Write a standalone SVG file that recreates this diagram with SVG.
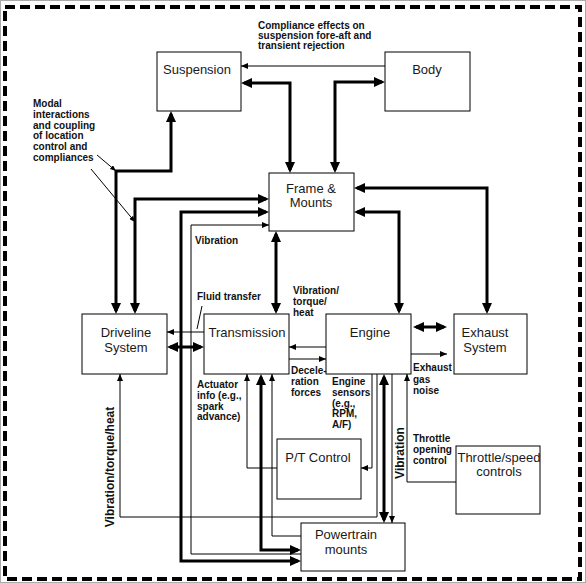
<svg xmlns="http://www.w3.org/2000/svg" width="586" height="583" viewBox="0 0 586 583">
<defs>
<style>
.box{fill:#fff;stroke:#000;stroke-width:1}
.nt{font-family:"Liberation Sans",Arial,sans-serif;font-size:13px;fill:#1a1a1a;text-anchor:middle}
.lb{font-family:"Liberation Sans",Arial,sans-serif;font-size:10px;font-weight:bold;fill:#111}
.lb12{font-family:"Liberation Sans",Arial,sans-serif;font-size:12px;font-weight:bold;fill:#111;text-anchor:middle}
.thin{fill:none;stroke:#000;stroke-width:1}
.thick{fill:none;stroke:#000;stroke-width:3}
.ta{marker-end:url(#at)}
.kb{marker-start:url(#ak);marker-end:url(#ak)}
</style>
<marker id="at" viewBox="0 0 7 6" refX="7" refY="3" markerWidth="7" markerHeight="6" markerUnits="userSpaceOnUse" orient="auto-start-reverse"><path d="M0,0 L7,3 L0,6 z" fill="#000"/></marker>
<marker id="as" viewBox="0 0 6 5" refX="6" refY="2.5" markerWidth="6" markerHeight="5" markerUnits="userSpaceOnUse" orient="auto-start-reverse"><path d="M0,0 L6,2.5 L0,5 z" fill="#000"/></marker>
<marker id="ak" viewBox="0 0 11 10" refX="8" refY="5" markerWidth="11" markerHeight="10" markerUnits="userSpaceOnUse" orient="auto-start-reverse"><path d="M0,0 L11,5 L0,10 z" fill="#000"/></marker>
</defs>
<rect x="0" y="0" width="586" height="583" fill="#fff"/>
<rect x="0.5" y="0.5" width="585" height="582" fill="none" stroke="#aaa" stroke-width="1"/>
<rect x="5" y="7" width="575" height="572" fill="none" stroke="#000" stroke-width="4" stroke-dasharray="10 5"/>

<g id="connectors">
<path class="thin ta" d="M385,66 H241"/>
<path class="thin ta" d="M204,332 H167"/>
<path class="thin ta" d="M326,347 H289"/>
<path class="thin ta" d="M289,359 H326"/>
<path class="thin ta" d="M411,354 H447"/>
<path class="thin ta" d="M377,374 V517 H120 V374"/>
<path class="thin ta" d="M372,374 V468 H361"/>
<path class="thin ta" d="M277,468 H247 V374"/>
<path class="thin ta" d="M301,536 H272 V374"/>
<path class="thin ta" d="M392,374 V523"/>
<path class="thin ta" d="M456,482 H407 V374"/>
<path class="thin ta" d="M301,554 H191 V225 H269"/>
<path class="thin" d="M97,155 L116,171" marker-end="url(#as)"/>
<path class="thin" d="M91,169 L135,222" marker-end="url(#as)"/>
<path class="thin" d="M202,306 L197,329"/>

<path class="thick kb" d="M244,83 H290 V170"/>
<path class="thick kb" d="M335,170 V82 H382"/>
<path class="thick kb" d="M357,188 H487 V311"/>
<path class="thick kb" d="M357,212 H399 V311"/>
<path class="thick kb" d="M116,311 V171 H171 V114"/>
<path class="thick kb" d="M135,311 V199 H266"/>
<path class="thick kb" d="M266,212 H181 V561 H298"/>
<path class="thick kb" d="M276,234 V311"/>
<path class="thick kb" d="M170,347 H201"/>
<path class="thick kb" d="M416,327 H444"/>
<path class="thick kb" d="M261,377 V550 H298"/>
<path class="thick kb" d="M384,377 V520"/>
</g>

<g id="suspension"><rect class="box" x="157" y="52" width="84" height="59"/><text class="nt" x="197" y="74">Suspension</text></g>
<g id="body"><rect class="box" x="385" y="52" width="85" height="59"/><text class="nt" x="427" y="74">Body</text></g>
<g id="frame"><rect class="box" x="269" y="173" width="85" height="58"/><text class="nt" x="311" y="193">Frame &amp;</text><text class="nt" x="311" y="207">Mounts</text></g>
<g id="driveline"><rect class="box" x="82" y="314" width="85" height="60"/><text class="nt" x="126" y="337">Driveline</text><text class="nt" x="126" y="352">System</text></g>
<g id="transmission"><rect class="box" x="204" y="314" width="85" height="60"/><text class="nt" x="247" y="337">Transmission</text></g>
<g id="engine"><rect class="box" x="326" y="314" width="85" height="60"/><text class="nt" x="370" y="337">Engine</text></g>
<g id="exhaust"><rect class="box" x="454" y="314" width="73" height="60"/><text class="nt" x="485" y="337">Exhaust</text><text class="nt" x="485" y="352">System</text></g>
<g id="ptcontrol"><rect class="box" x="277" y="439" width="84" height="60"/><text class="nt" x="318" y="462">P/T Control</text></g>
<g id="throttle"><rect class="box" x="456" y="446" width="84" height="68"/><text class="nt" x="499" y="462">Throttle/speed</text><text class="nt" x="499" y="476">controls</text></g>
<g id="powertrain"><rect class="box" x="301" y="523" width="104" height="48"/><text class="nt" x="346" y="539">Powertrain</text><text class="nt" x="346" y="554">mounts</text></g>

<g id="labels">
<text class="lb" x="258"><tspan x="258" y="29">Compliance effects on</tspan><tspan x="258" y="39">suspension fore-aft and</tspan><tspan x="258" y="49">transient rejection</tspan></text>
<text class="lb" x="33"><tspan x="33" y="107">Modal</tspan><tspan x="33" y="117.5">interactions</tspan><tspan x="33" y="128.5">and coupling</tspan><tspan x="33" y="139">of location</tspan><tspan x="33" y="150">control and</tspan><tspan x="33" y="161">compliances</tspan></text>
<text class="lb" x="195" y="244">Vibration</text>
<text class="lb" x="197" y="300">Fluid transfer</text>
<text class="lb" x="293"><tspan x="293" y="294">Vibration/</tspan><tspan x="293" y="305">torque/</tspan><tspan x="293" y="316">heat</tspan></text>
<text class="lb" x="197"><tspan x="197" y="388">Actuator</tspan><tspan x="197" y="398.5">info (e.g.,</tspan><tspan x="197" y="409.5">spark</tspan><tspan x="197" y="420">advance)</tspan></text>
<text class="lb" x="291"><tspan x="291" y="374">Decele-</tspan><tspan x="291" y="385">ration</tspan><tspan x="291" y="396">forces</tspan></text>
<text class="lb" x="332"><tspan x="332" y="385">Engine</tspan><tspan x="332" y="396">sensors</tspan><tspan x="332" y="407">(e.g.,</tspan><tspan x="332" y="417">RPM,</tspan><tspan x="332" y="428">A/F)</tspan></text>
<text class="lb" x="413"><tspan x="413" y="371">Exhaust</tspan><tspan x="413" y="383">gas</tspan><tspan x="413" y="394">noise</tspan></text>
<text class="lb" x="413"><tspan x="413" y="442">Throttle</tspan><tspan x="413" y="453">opening</tspan><tspan x="413" y="464">control</tspan></text>
<text class="lb12" transform="translate(114,467) rotate(-90)">Vibration/torque/heat</text>
<text class="lb12" transform="translate(404,453) rotate(-90)">Vibration</text>
</g>
</svg>
